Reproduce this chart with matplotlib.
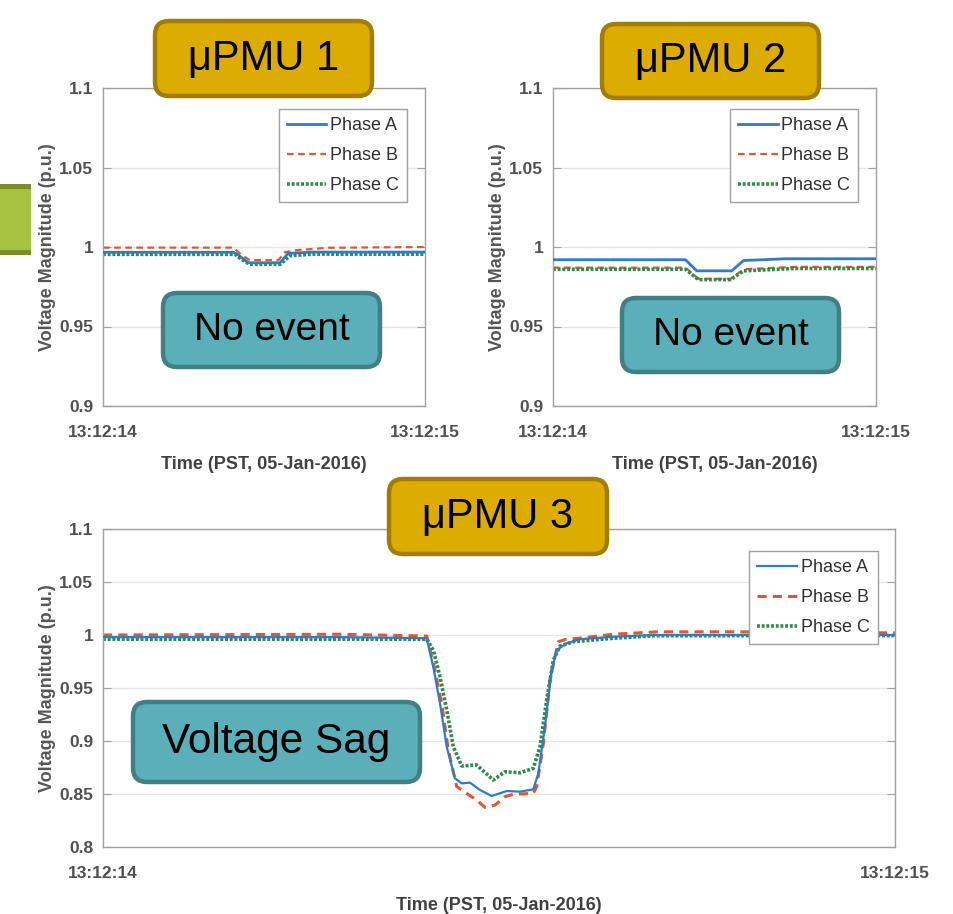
import numpy as np
import matplotlib
matplotlib.use('Agg')
import matplotlib.pyplot as plt
from matplotlib.patches import FancyBboxPatch, Rectangle
from matplotlib.transforms import IdentityTransform

plt.rcParams['font.family'] = ['Liberation Sans', 'DejaVu Sans']

# ---- data (t = fraction of the 1 s window) ----
t1_a = [0, 0.405, 0.42, 0.451, 0.55, 0.575, 0.65, 1.0]
v1_a = [0.9967, 0.9967, 0.995, 0.9901, 0.9901, 0.996, 0.9968, 0.9968]
t1_b = [0, 0.405, 0.43, 0.455, 0.545, 0.565, 0.60, 0.70, 1.0]
v1_b = [0.9996, 0.9996, 0.995, 0.9918, 0.9918, 0.9967, 0.998, 0.9995, 1.0]
t1_c = [0, 0.41, 0.425, 0.455, 0.55, 0.58, 0.65, 1.0]
v1_c = [0.9954, 0.9954, 0.993, 0.9891, 0.9891, 0.9945, 0.9955, 0.9955]

t2_a = [0, 0.41, 0.445, 0.553, 0.59, 0.72, 1.0]
v2_a = [0.992, 0.992, 0.985, 0.985, 0.9915, 0.9926, 0.9926]
t2_b = [0, 0.41, 0.45, 0.55, 0.59, 0.75, 1.0]
v2_b = [0.987, 0.987, 0.980, 0.980, 0.986, 0.9875, 0.9875]
t2_c = [0, 0.41, 0.45, 0.55, 0.59, 0.75, 1.0]
v2_c = [0.986, 0.986, 0.9795, 0.9795, 0.985, 0.9865, 0.9865]

t3_a = [0, 0.3, 0.4087, 0.417, 0.4255, 0.434, 0.4444, 0.4529, 0.4634, 0.476, 0.4907,
        0.5097, 0.5265, 0.5433, 0.5497, 0.558, 0.5665, 0.573, 0.585, 0.602, 0.644, 0.695, 1.0]
v3_a = [0.998, 0.998, 0.997, 0.970, 0.9356, 0.8946, 0.8648, 0.860, 0.8607, 0.8538, 0.8481,
        0.8528, 0.8522, 0.8544, 0.8695, 0.9135, 0.967, 0.9858, 0.992, 0.996, 0.9984, 1.0, 1.0]
t3_b = [0, 0.3, 0.4087, 0.419, 0.4276, 0.436, 0.4466, 0.459, 0.4718, 0.4823, 0.495,
        0.5076, 0.518, 0.5433, 0.5476, 0.556, 0.5644, 0.5749, 0.585, 0.602, 0.644, 0.70, 0.80, 1.0]
v3_b = [1.0, 1.0007, 0.999, 0.967, 0.9356, 0.8915, 0.857, 0.8506, 0.8443, 0.8374, 0.8396,
        0.8475, 0.8497, 0.8506, 0.857, 0.8978, 0.9575, 0.9937, 0.996, 0.997, 1.0007, 1.003, 1.003, 1.002]
t3_c = [0, 0.3, 0.4087, 0.417, 0.4255, 0.434, 0.4423, 0.4529, 0.4718, 0.4928, 0.5076,
        0.5265, 0.5433, 0.5518, 0.5602, 0.5686, 0.577, 0.594, 0.644, 0.695, 1.0]
v3_c = [0.996, 0.996, 0.996, 0.9858, 0.9607, 0.9292, 0.8946, 0.8764, 0.8774, 0.8632, 0.871,
        0.870, 0.8742, 0.8946, 0.9387, 0.9764, 0.9896, 0.9937, 0.9969, 0.9993, 0.9995]

phases = ['Phase A', 'Phase B', 'Phase C']
xtick_labels = ['13:12:14', '13:12:15']
yticks_top = [0.9, 0.95, 1.0, 1.05, 1.1]
ytick_labels_top = ['0.9', '0.95', '1', '1.05', '1.1']
yticks_bot = [0.8, 0.85, 0.9, 0.95, 1.0, 1.05, 1.1]
ytick_labels_bot = ['0.8', '0.85', '0.9', '0.95', '1', '1.05', '1.1']

col_a = '#2F7CC6'
col_b = '#E2582C'
col_c = '#2C8B47'
tick_col = '#505050'

W, H = 954, 914
fig = plt.figure(figsize=(W / 100, H / 100), dpi=100)


def px_axes(x0, y0, x1, y1):
    return fig.add_axes([x0 / W, (H - y1) / H, (x1 - x0) / W, (y1 - y0) / H])


def style(ax, yt, ylabs, ylim):
    ax.set_xlim(0, 1)
    ax.set_ylim(*ylim)
    ax.set_xticks([0, 1])
    ax.set_xticklabels(xtick_labels)
    ax.set_yticks(yt)
    ax.set_yticklabels(ylabs)
    for s in ax.spines.values():
        s.set_color('#A0A0A0')
        s.set_linewidth(1.0)
    ax.tick_params(axis='y', direction='in', right=True, length=6, color='#A0A0A0',
                   labelsize=12.5, labelcolor=tick_col, pad=7)
    ax.tick_params(axis='x', direction='in', top=True, length=0,
                   labelsize=12.5, labelcolor=tick_col, pad=13.5)
    for lab in ax.get_xticklabels() + ax.get_yticklabels():
        lab.set_fontweight('bold')
    ax.yaxis.grid(True, color='#E6E6E6', linewidth=1.0)
    ax.set_axisbelow(True)
    ax.set_xlabel('Time (PST, 05-Jan-2016)', fontsize=13, fontweight='bold',
                  color='#404040', labelpad=12)
    ax.set_ylabel('Voltage Magnitude (p.u.)', fontsize=13, fontweight='bold',
                  color='#555555', labelpad=2)


def draw(ax, ta, va, tb, vb, tc, vc, lw_a, lw_b, lw_c, anchor):
    ax.plot(ta, va, color=col_a, lw=lw_a, label=phases[0], zorder=3)
    ax.plot(tb, vb, color=col_b, lw=lw_b, ls=(0, (3, 2)), label=phases[1], zorder=2)
    ax.plot(tc, vc, color=col_c, lw=lw_c, ls=(0, (0.8, 0.5)), label=phases[2], zorder=2)
    leg = ax.legend(loc='upper right', bbox_to_anchor=anchor, borderaxespad=0,
                    fontsize=13, handlelength=2.2, handletextpad=0.2,
                    labelspacing=0.72, borderpad=0.45, fancybox=False,
                    framealpha=1, edgecolor='#A0A0A0')
    leg.get_frame().set_linewidth(1.0)
    for txt in leg.get_texts():
        txt.set_color('#303030')


ax1 = px_axes(103, 88, 425, 406)
style(ax1, yticks_top, ytick_labels_top, (0.9, 1.1))
draw(ax1, t1_a, v1_a, t1_b, v1_b, t1_c, v1_c, 2.0, 1.6, 2.6, (0.944, 0.934))

ax2 = px_axes(553, 88, 876, 406)
style(ax2, yticks_top, ytick_labels_top, (0.9, 1.1))
draw(ax2, t2_a, v2_a, t2_b, v2_b, t2_c, v2_c, 2.0, 1.6, 2.6, (0.945, 0.934))

ax3 = px_axes(103, 529, 895, 847)
style(ax3, yticks_bot, ytick_labels_bot, (0.8, 1.1))
draw(ax3, t3_a, v3_a, t3_b, v3_b, t3_c, v3_c, 1.6, 2.2, 2.6, (0.978, 0.931))

# ---- decorative boxes (pixel coords, y from top) ----
tr = IdentityTransform()


def box(x0, y0, x1, y1, fc, ec, text, fs):
    p = FancyBboxPatch((x0, H - y1), x1 - x0, y1 - y0,
                       boxstyle='round,pad=0,rounding_size=14',
                       facecolor=fc, edgecolor=ec, linewidth=3.2,
                       transform=tr, zorder=10)
    fig.patches.append(p)
    fig.text((x0 + x1) / 2 / W, 1 - (y0 + y1) / 2 / H, text, fontsize=fs,
             ha='center', va='center', color='black', zorder=11)


gold, gold_edge = '#DCAC00', '#A27E00'
teal, teal_edge = '#5AAFB8', '#407F84'

box(155, 21, 372, 96, gold, gold_edge, 'μPMU 1', 30)
box(602, 24, 819, 98, gold, gold_edge, 'μPMU 2', 30)
box(389, 479, 607, 554, gold, gold_edge, 'μPMU 3', 30)
box(163, 293, 380, 367, teal, teal_edge, 'No event', 28)
box(622, 298, 839, 372, teal, teal_edge, 'No event', 28)
box(133, 702, 420, 782, teal, teal_edge, 'Voltage Sag', 30.5)

# green strip at the left edge
fig.patches.append(Rectangle((0, H - 255), 31, 71, facecolor='#A6C240',
                             edgecolor='none', transform=tr, zorder=10))
fig.patches.append(Rectangle((0, H - 189), 31, 5, facecolor='#7C8E2C',
                             edgecolor='none', transform=tr, zorder=10))
fig.patches.append(Rectangle((0, H - 255), 31, 5, facecolor='#7C8E2C',
                             edgecolor='none', transform=tr, zorder=10))

fig.savefig('out.png', dpi=100)
